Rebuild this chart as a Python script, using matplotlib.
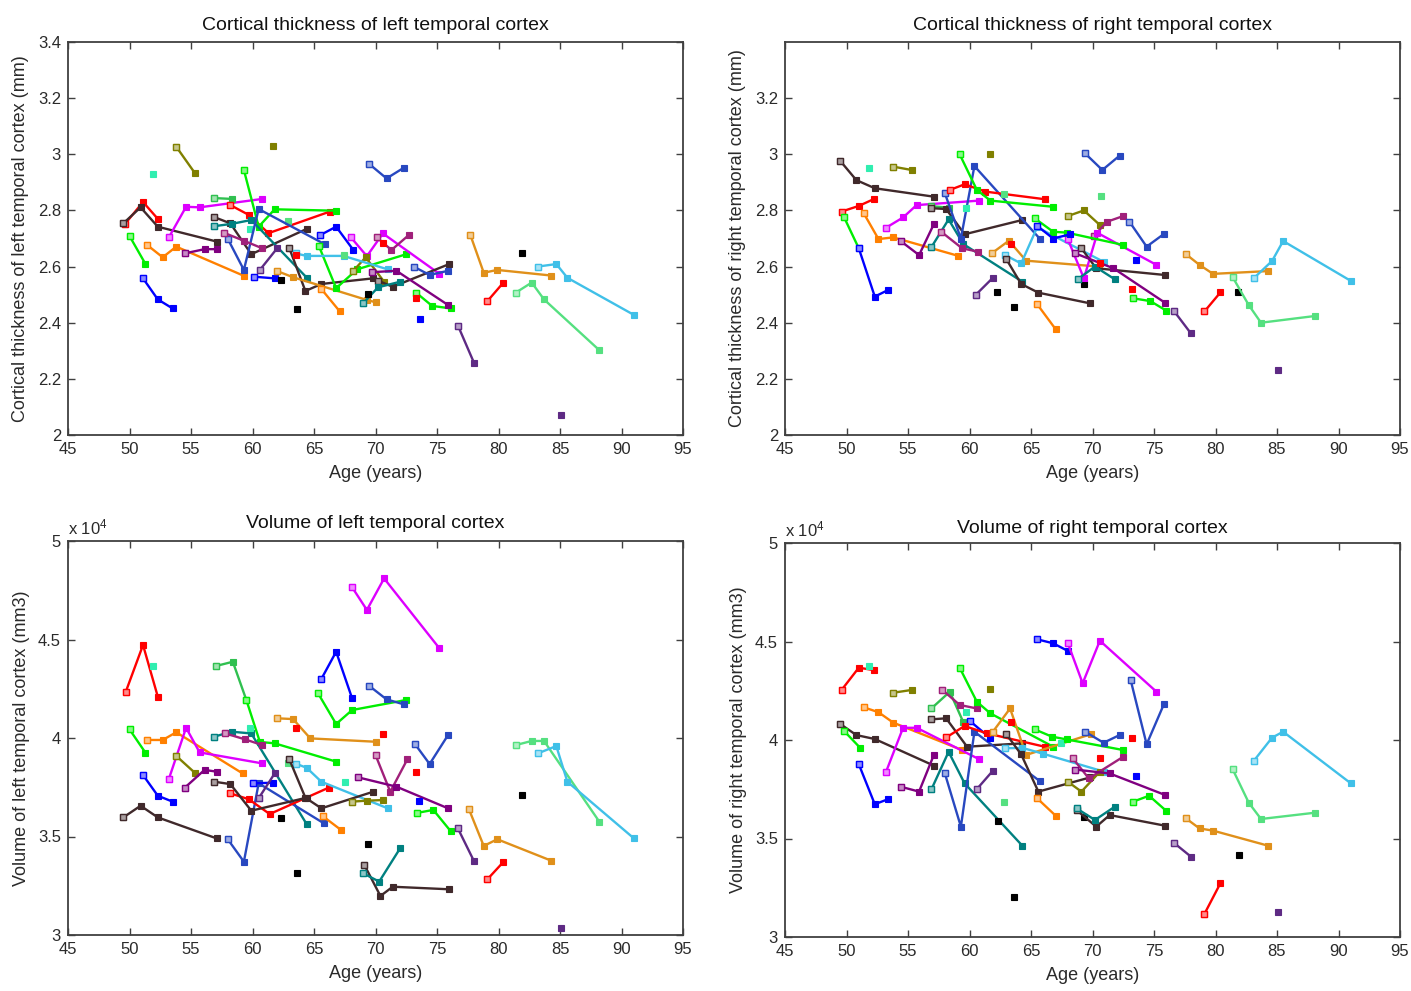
import matplotlib
matplotlib.use('Agg')
import matplotlib.pyplot as plt
from matplotlib.ticker import FuncFormatter
from matplotlib.colors import to_rgb

plt.rcParams['font.family'] = ['Liberation Sans', 'DejaVu Sans']
plt.rcParams['mathtext.default'] = 'regular'

# colour of each subject key (MATLAB-like palette)
palette = {
    'red': '#ff0000', 'brown': '#40292b', 'green': '#00ee00', 'blue': '#0000ff',
    'orange': '#ff8000', 'aqua': '#30eeb0', 'olive': '#808000', 'magenta': '#dd00ff',
    'purple': '#800080', 'mgreen': '#30c050', 'rblue': '#2848c0', 'maroon': '#a0207a',
    'dpurple': '#5e2a84', 'teal': '#008080', 'gold': '#e0901a', 'sky': '#40c0e8',
    'lgreen': '#55e080', 'black': '#000000',
}

# (subject colour, ages, values) -- cortical thickness, left hemisphere (mm)
thick_left = [
    ('red', [49.6, 51.1, 52.3], [2.75, 2.83, 2.77]),
    ('brown', [49.5, 50.9, 52.3, 57.1], [2.754, 2.811, 2.742, 2.689]),
    ('green', [50.0, 51.3], [2.709, 2.609]),
    ('blue', [51.1, 52.3, 53.5], [2.558, 2.483, 2.451]),
    ('orange', [51.4, 52.7, 53.8, 59.3], [2.678, 2.633, 2.671, 2.567]),
    ('aqua', [51.9], [2.931]),
    ('olive', [53.8, 55.3], [3.027, 2.934]),
    ('olive', [61.7], [3.03]),
    ('magenta', [53.2, 54.6, 55.7, 60.8], [2.704, 2.813, 2.811, 2.841]),
    ('purple', [54.5, 56.1, 57.1], [2.647, 2.662, 2.662]),
    ('mgreen', [56.9, 58.3], [2.844, 2.841]),
    ('red', [58.2, 59.7, 61.3, 66.3], [2.819, 2.784, 2.719, 2.796]),
    ('green', [59.3, 60.5, 61.8, 66.8], [2.944, 2.742, 2.804, 2.799]),
    ('brown', [56.9, 58.2, 59.9, 64.4], [2.776, 2.754, 2.644, 2.734]),
    ('teal', [56.9, 58.3, 59.9, 64.4], [2.744, 2.752, 2.766, 2.561]),
    ('aqua', [59.8], [2.734]),
    ('lgreen', [62.9], [2.761]),
    ('rblue', [58.0, 59.3, 60.5, 65.9], [2.698, 2.588, 2.805, 2.679]),
    ('maroon', [57.7, 59.3, 60.8], [2.72, 2.692, 2.665]),
    ('blue', [60.1, 61.8], [2.564, 2.558]),
    ('black', [62.3], [2.552]),
    ('dpurple', [60.6, 62.0], [2.588, 2.665]),
    ('brown', [63.0, 64.3, 65.6, 69.8], [2.665, 2.513, 2.538, 2.558]),
    ('gold', [62.0, 63.3, 69.3, 70.0], [2.584, 2.562, 2.481, 2.473]),
    ('orange', [65.6, 67.1], [2.52, 2.44]),
    ('rblue', [69.5, 70.9, 72.3], [2.965, 2.914, 2.952]),
    ('blue', [65.5, 66.8, 68.2], [2.712, 2.742, 2.659]),
    ('green', [65.4, 66.8, 68.5, 72.5], [2.673, 2.523, 2.59, 2.644]),
    ('magenta', [68.0, 69.3, 70.6, 75.2], [2.704, 2.637, 2.718, 2.574]),
    ('maroon', [70.1, 71.3, 72.7], [2.704, 2.659, 2.712]),
    ('red', [70.6], [2.685]),
    ('olive', [68.2, 69.2, 70.7], [2.585, 2.633, 2.546]),
    ('brown', [70.2, 71.4, 76.0], [2.55, 2.528, 2.609]),
    ('sky', [63.5, 64.4, 67.4, 71.0], [2.647, 2.638, 2.638, 2.59]),
    ('red', [63.5], [2.643]),
    ('lgreen', [67.4], [2.64]),
    ('teal', [69.0, 70.2, 72.0], [2.469, 2.526, 2.546]),
    ('black', [63.6], [2.448]),
    ('black', [69.4], [2.502]),
    ('green', [73.3, 74.6, 76.1], [2.507, 2.46, 2.451]),
    ('red', [73.3], [2.487]),
    ('blue', [73.6], [2.412]),
    ('purple', [69.7, 71.7, 75.9], [2.58, 2.585, 2.463]),
    ('rblue', [73.1, 74.4, 75.9], [2.6, 2.57, 2.585]),
    ('dpurple', [76.7, 78.0], [2.39, 2.258]),
    ('dpurple', [85.1], [2.07]),
    ('gold', [77.7, 78.8, 79.9, 84.3], [2.714, 2.578, 2.588, 2.568]),
    ('red', [79.1, 80.4], [2.477, 2.543]),
    ('black', [81.9], [2.649]),
    ('lgreen', [81.4, 82.7, 83.7, 88.2], [2.507, 2.543, 2.483, 2.302]),
    ('sky', [83.2, 84.7, 85.6, 91.0], [2.6, 2.609, 2.56, 2.428]),
]

# cortical thickness, right hemisphere (mm)
thick_right = [
    ('brown', [49.5, 50.8, 52.3, 57.1], [2.976, 2.908, 2.879, 2.849]),
    ('aqua', [51.8], [2.95]),
    ('olive', [53.8, 55.3], [2.956, 2.944]),
    ('red', [49.6, 51.0, 52.2], [2.796, 2.816, 2.84]),
    ('green', [49.8, 51.0], [2.776, 2.665]),
    ('blue', [51.0, 52.3, 53.4], [2.665, 2.493, 2.517]),
    ('orange', [51.4, 52.6, 53.8, 59.1], [2.79, 2.698, 2.704, 2.638]),
    ('magenta', [53.2, 54.6, 55.7, 60.8], [2.738, 2.775, 2.819, 2.835]),
    ('purple', [54.4, 55.9, 57.1], [2.691, 2.641, 2.751]),
    ('mgreen', [56.9, 58.3], [2.815, 2.81]),
    ('brown', [56.9, 58.1, 59.6, 64.3], [2.808, 2.805, 2.715, 2.766]),
    ('teal', [56.9, 58.3, 59.5, 64.3], [2.669, 2.768, 2.68, 2.546]),
    ('maroon', [57.7, 59.4, 60.7], [2.724, 2.665, 2.653]),
    ('rblue', [58.0, 59.3, 60.4, 65.7], [2.861, 2.70, 2.958, 2.70]),
    ('red', [58.4, 59.6, 61.3, 66.1], [2.873, 2.893, 2.867, 2.84]),
    ('green', [59.2, 60.6, 61.7, 66.8], [3.0, 2.873, 2.835, 2.813]),
    ('lgreen', [62.8], [2.859]),
    ('aqua', [59.7], [2.808]),
    ('olive', [61.7], [3.0]),
    ('gold', [61.8, 63.2, 64.6, 70.5], [2.647, 2.692, 2.621, 2.6]),
    ('red', [63.4], [2.68]),
    ('sky', [62.9, 64.2, 65.5, 70.9], [2.641, 2.611, 2.74, 2.617]),
    ('brown', [63.0, 64.2, 65.6, 69.8], [2.626, 2.538, 2.507, 2.469]),
    ('dpurple', [60.5, 61.9], [2.499, 2.56]),
    ('black', [62.2], [2.508]),
    ('black', [63.6], [2.457]),
    ('black', [69.3], [2.538]),
    ('orange', [65.5, 67.0], [2.466, 2.377]),
    ('rblue', [69.4, 70.8, 72.2], [3.003, 2.944, 2.995]),
    ('lgreen', [70.7], [2.851]),
    ('olive', [68.0, 69.3, 70.6], [2.78, 2.80, 2.748]),
    ('maroon', [70.1, 71.2, 72.5], [2.709, 2.76, 2.78]),
    ('magenta', [68.0, 69.3, 70.4, 75.2], [2.697, 2.558, 2.72, 2.606]),
    ('rblue', [73.0, 74.4, 75.8], [2.76, 2.671, 2.716]),
    ('blue', [73.5], [2.623]),
    ('green', [65.3, 66.8, 67.9, 72.5], [2.772, 2.724, 2.721, 2.677]),
    ('blue', [65.5, 66.8, 68.2], [2.745, 2.70, 2.715]),
    ('brown', [69.1, 70.3, 75.9], [2.665, 2.594, 2.57]),
    ('purple', [68.6, 71.7, 75.9], [2.647, 2.594, 2.471]),
    ('teal', [68.8, 70.2, 71.8], [2.555, 2.60, 2.555]),
    ('red', [70.6], [2.612]),
    ('red', [73.2], [2.519]),
    ('green', [73.3, 74.7, 76.0], [2.487, 2.477, 2.443]),
    ('dpurple', [76.6, 78.0], [2.443, 2.362]),
    ('gold', [77.6, 78.7, 79.8, 84.3], [2.644, 2.606, 2.574, 2.584]),
    ('red', [79.1, 80.4], [2.44, 2.508]),
    ('black', [81.8], [2.508]),
    ('lgreen', [81.4, 82.7, 83.7, 88.1], [2.562, 2.463, 2.4, 2.424]),
    ('sky', [83.1, 84.6, 85.5, 91.0], [2.558, 2.62, 2.691, 2.549]),
    ('dpurple', [85.1], [2.232]),
]

# volume, left hemisphere (x 10^4 mm3)
vol_left = [
    ('red', [49.7, 51.1, 52.3], [4.235, 4.472, 4.21]),
    ('aqua', [51.9], [4.365]),
    ('green', [50.0, 51.3], [4.044, 3.925]),
    ('blue', [51.1, 52.3, 53.5], [3.812, 3.707, 3.677]),
    ('brown', [49.5, 50.9, 52.3, 57.1], [3.597, 3.656, 3.597, 3.49]),
    ('orange', [51.4, 52.7, 53.8, 59.2], [3.99, 3.99, 4.029, 3.82]),
    ('magenta', [53.2, 54.6, 55.7, 60.8], [3.792, 4.052, 3.927, 3.871]),
    ('olive', [53.8, 55.3], [3.909, 3.824]),
    ('purple', [54.5, 56.1, 57.1], [3.748, 3.838, 3.829]),
    ('mgreen', [57.0, 58.4, 59.5], [4.365, 4.387, 4.193]),
    ('green', [59.5, 60.6, 61.8, 66.8], [4.193, 3.98, 3.973, 3.88]),
    ('teal', [56.9, 58.3, 59.9, 64.4], [4.007, 4.032, 4.023, 3.563]),
    ('aqua', [59.8], [4.049]),
    ('maroon', [57.8, 59.4, 60.8], [4.023, 3.993, 3.964]),
    ('rblue', [58.0, 59.3, 60.5, 65.8], [3.485, 3.372, 3.77, 3.567]),
    ('blue', [60.0, 61.7], [3.77, 3.773]),
    ('dpurple', [60.5, 61.8], [3.694, 3.82]),
    ('red', [58.2, 59.7, 61.4, 66.2], [3.719, 3.689, 3.614, 3.748]),
    ('brown', [56.9, 58.2, 59.9, 64.4], [3.778, 3.766, 3.631, 3.697]),
    ('black', [62.3], [3.592]),
    ('black', [63.6], [3.313]),
    ('black', [69.4], [3.462]),
    ('black', [81.9], [3.711]),
    ('gold', [62.0, 63.3, 64.7, 70.0], [4.1, 4.096, 3.998, 3.981]),
    ('red', [63.5], [4.049]),
    ('lgreen', [62.9], [3.871]),
    ('aqua', [67.5], [3.775]),
    ('sky', [63.5, 64.4, 65.6, 71.0], [3.87, 3.849, 3.778, 3.643]),
    ('brown', [63.0, 64.3, 65.6, 69.8], [3.891, 3.697, 3.643, 3.727]),
    ('orange', [65.7, 67.2], [3.604, 3.533]),
    ('blue', [65.6, 66.8, 68.1], [4.3, 4.438, 4.201]),
    ('green', [65.3, 66.8, 68.1, 72.5], [4.23, 4.071, 4.142, 4.193]),
    ('magenta', [68.1, 69.3, 70.7, 75.2], [4.765, 4.65, 4.81, 4.455]),
    ('rblue', [69.5, 70.9, 72.3], [4.264, 4.196, 4.171]),
    ('brown', [69.1, 70.4, 71.4, 76.0], [3.355, 3.198, 3.245, 3.232]),
    ('teal', [69.0, 70.3, 72.0], [3.313, 3.271, 3.44]),
    ('olive', [68.1, 69.3, 70.6], [3.677, 3.682, 3.685]),
    ('maroon', [70.0, 71.2, 72.6], [3.914, 3.727, 3.893]),
    ('purple', [68.6, 71.7, 75.9], [3.8, 3.753, 3.643]),
    ('rblue', [73.2, 74.4, 75.9], [3.97, 3.868, 4.015]),
    ('red', [70.6], [4.02]),
    ('red', [73.3], [3.829]),
    ('blue', [73.5], [3.682]),
    ('green', [73.4, 74.7, 76.1], [3.62, 3.635, 3.528]),
    ('dpurple', [76.7, 78.0], [3.541, 3.376]),
    ('gold', [77.6, 78.8, 79.9, 84.3], [3.638, 3.452, 3.486, 3.377]),
    ('red', [79.1, 80.4], [3.283, 3.371]),
    ('lgreen', [81.4, 82.7, 83.7, 88.2], [3.964, 3.985, 3.985, 3.575]),
    ('sky', [83.2, 84.7, 85.6, 91.0], [3.922, 3.959, 3.778, 3.491]),
    ('dpurple', [85.1], [3.034]),
]

# volume, right hemisphere (x 10^4 mm3)
vol_right = [
    ('red', [49.6, 51.0, 52.2], [4.254, 4.367, 4.355]),
    ('aqua', [51.8], [4.377]),
    ('brown', [49.5, 50.8, 52.3, 57.1], [4.081, 4.025, 4.005, 3.87]),
    ('green', [49.8, 51.1], [4.046, 3.961]),
    ('blue', [51.0, 52.3, 53.4], [3.877, 3.674, 3.7]),
    ('olive', [53.8, 55.3], [4.24, 4.254]),
    ('orange', [51.4, 52.6, 53.8, 59.4], [4.166, 4.141, 4.088, 3.949]),
    ('magenta', [53.2, 54.6, 55.7, 60.8], [3.836, 4.062, 4.062, 3.902]),
    ('purple', [54.4, 55.9, 57.1], [3.763, 3.738, 3.924]),
    ('mgreen', [56.9, 58.4, 59.5], [4.16, 4.245, 4.09]),
    ('maroon', [57.8, 59.2, 60.6], [4.254, 4.178, 4.16]),
    ('aqua', [59.7], [4.141]),
    ('green', [59.2, 60.6, 61.7, 66.8], [4.367, 4.194, 4.135, 3.966]),
    ('brown', [56.9, 58.1, 59.8, 64.3], [4.105, 4.11, 3.966, 3.983]),
    ('teal', [56.9, 58.3, 59.6, 64.3], [3.749, 3.94, 3.78, 3.463]),
    ('rblue', [58.0, 59.3, 60.4, 65.7], [3.83, 3.56, 4.042, 3.792]),
    ('blue', [60.0, 61.7], [4.098, 4.009]),
    ('dpurple', [60.6, 61.9], [3.751, 3.844]),
    ('red', [58.1, 59.6, 61.4, 66.1], [4.013, 4.071, 4.034, 3.966]),
    ('olive', [61.7], [4.259]),
    ('gold', [61.9, 63.3, 64.6, 69.9], [4.042, 4.16, 3.924, 4.03]),
    ('red', [63.4], [4.089]),
    ('sky', [62.9, 64.3, 66.0, 70.9], [3.958, 3.96, 3.93, 3.84]),
    ('brown', [63.0, 64.2, 65.6, 69.8], [4.029, 3.927, 3.738, 3.81]),
    ('orange', [65.5, 67.0], [3.704, 3.616]),
    ('black', [62.3], [3.59]),
    ('black', [63.6], [3.201]),
    ('black', [69.3], [3.611]),
    ('black', [81.9], [3.416]),
    ('lgreen', [62.8], [3.687]),
    ('aqua', [67.4], [3.983]),
    ('blue', [65.5, 66.8, 68.0], [4.511, 4.491, 4.452]),
    ('magenta', [68.0, 69.2, 70.6, 75.2], [4.491, 4.288, 4.504, 4.245]),
    ('green', [65.3, 66.7, 67.9, 72.5], [4.054, 4.017, 4.003, 3.949]),
    ('rblue', [69.4, 70.9, 72.2], [4.042, 3.986, 4.025]),
    ('brown', [68.7, 70.3, 71.4, 75.9], [3.645, 3.56, 3.619, 3.565]),
    ('teal', [68.7, 70.2, 71.8], [3.653, 3.594, 3.661]),
    ('olive', [68.0, 69.1, 70.6], [3.788, 3.738, 3.839]),
    ('maroon', [68.4, 69.7, 72.5], [3.907, 3.805, 3.915]),
    ('purple', [68.6, 71.4, 75.9], [3.85, 3.83, 3.721]),
    ('red', [70.6], [3.907]),
    ('red', [73.2], [4.012]),
    ('blue', [73.5], [3.817]),
    ('green', [73.3, 74.6, 76.0], [3.687, 3.717, 3.64]),
    ('rblue', [73.1, 74.4, 75.8], [4.305, 3.978, 4.181]),
    ('dpurple', [76.6, 78.0], [3.479, 3.408]),
    ('gold', [77.6, 78.7, 79.8, 84.3], [3.602, 3.551, 3.54, 3.463]),
    ('red', [79.1, 80.4], [3.117, 3.273]),
    ('lgreen', [81.4, 82.7, 83.7, 88.1], [3.851, 3.682, 3.599, 3.631]),
    ('sky', [83.1, 84.6, 85.5, 91.0], [3.893, 4.012, 4.042, 3.78]),
    ('dpurple', [85.1], [3.128]),
]

titles = ['Cortical thickness of left temporal cortex',
          'Cortical thickness of right temporal cortex',
          'Volume of left temporal cortex',
          'Volume of right temporal cortex']
ylabels = ['Cortical thickness of left temporal cortex (mm)',
           'Cortical thickness of right temporal cortex (mm)',
           'Volume of left temporal cortex (mm3)',
           'Volume of right temporal cortex (mm3)']
x_ticks = list(range(45, 100, 5))
thick_ticks = [2.0, 2.2, 2.4, 2.6, 2.8, 3.0, 3.2, 3.4]
vol_ticks = [3.0, 3.5, 4.0, 4.5, 5.0]

fig = plt.figure(figsize=(14.11, 9.91), dpi=100)
W, H = 1411, 991
# axes boxes in pixels: left, top, right, bottom
boxes = [(68, 42, 683, 435), (785, 42, 1400, 435),
         (68, 541, 683, 935), (785, 543, 1400, 937)]
panels = [thick_left, thick_right, vol_left, vol_right]

fmt = FuncFormatter(lambda v, p: '%g' % round(v, 2))
txt = '#2a2a2a'

for i, (box, data) in enumerate(zip(boxes, panels)):
    l, t, r, b = box
    ax = fig.add_axes([l / W, 1 - b / H, (r - l) / W, (b - t) / H])
    for key, ages, vals in data:
        c = palette[key]
        if len(ages) == 1:
            ax.plot(ages, vals, 's', color=c, ms=4.4, mec=c, mew=0.8)
        else:
            ax.plot(ages, vals, '-s', color=c, lw=1.7, ms=4.4, mec=c, mew=0.8)
            light = tuple(0.55 + 0.45 * v for v in to_rgb(c))
            ax.plot(ages[:1], vals[:1], 's', ms=4.4, mfc=light, mec=c, mew=1.0)

    ax.set_xlim(45, 95)
    ax.set_xticks(x_ticks)
    if i < 2:
        ax.set_ylim(2, 3.4)
        ax.set_yticks(thick_ticks if i == 0 else thick_ticks[:-1])
        pad = 8.5
    else:
        ax.set_ylim(3, 5)
        ax.set_yticks(vol_ticks)
        ax.text(0.0, 1.01, r'x 10$^{4}$', transform=ax.transAxes,
                ha='left', va='bottom', fontsize=12, color=txt)
        pad = 9.5 if i == 2 else 7.5
    ax.yaxis.set_major_formatter(fmt)

    ax.set_title(titles[i], fontsize=14, pad=pad, color='#111111')
    ax.set_xlabel('Age (years)', fontsize=13, labelpad=6, color=txt)
    ax.set_ylabel(ylabels[i], fontsize=13, labelpad=6, color=txt)

    ax.tick_params(direction='in', top=True, right=True, length=5, width=1,
                   color='#404040', labelsize=12, labelcolor=txt, pad=5)
    for s in ax.spines.values():
        s.set_color('#404040')
        s.set_linewidth(1.3)

fig.savefig('out.png', dpi=100)
